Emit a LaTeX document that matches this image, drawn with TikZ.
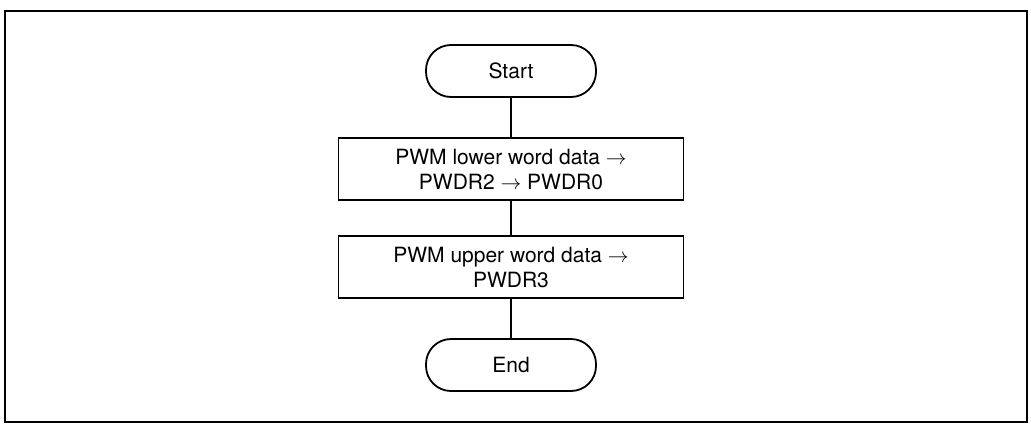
\documentclass[tikz,border=0pt]{standalone}
\usepackage{fontspec}
\setmainfont{TeX Gyre Heros}
\begin{document}
\begin{tikzpicture}[x=1pt,y=-1pt,line width=1.8pt,
  term/.style={draw, rounded corners=25pt, minimum width=170pt, minimum height=52pt, inner sep=0pt, font=\fontsize{21}{25}\selectfont},
  procbox/.style={draw, minimum width=345pt, minimum height=62pt, inner sep=0pt, align=center, font=\fontsize{21}{25}\selectfont}]
\useasboundingbox (0,0) rectangle (1031,426);
\draw (5,11) rectangle (1027,422);
\node[term] (start) at (511,71) {Start};
\node[procbox] (p1) at (511,169) {PWM lower word data $\rightarrow$\\PWDR2 $\rightarrow$ PWDR0};
\node[procbox] (p2) at (511,267) {PWM upper word data $\rightarrow$\\PWDR3};
\node[term] (end) at (511,365) {End};
\draw (start) -- (p1);
\draw (p1) -- (p2);
\draw (p2) -- (end);
\end{tikzpicture}
\end{document}
